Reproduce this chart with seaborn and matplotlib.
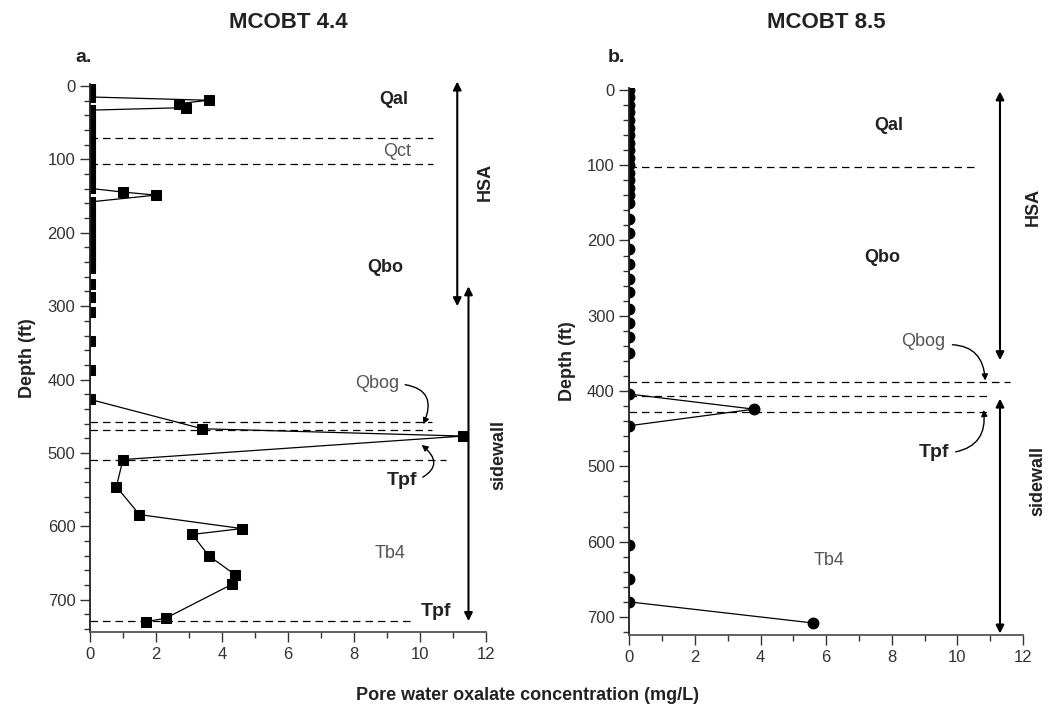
import numpy as np
import pandas as pd
import matplotlib
matplotlib.use("Agg")
import matplotlib.pyplot as plt
import seaborn as sns
from matplotlib.ticker import MultipleLocator

# ---------------- data ----------------
# Panel a (MCOBT 4.4): depth (ft) and pore water oxalate (mg/L)
depth_a = [0, 5, 10, 15, 19.5, 24, 29.5,
           33, 38, 43, 48, 53, 58, 63, 68, 73, 78, 83, 88, 93, 98, 103, 108, 113, 118, 123, 128, 133,
           139.5, 144.6, 148.7,
           158, 163, 168, 173, 178, 183, 188, 193, 198, 203, 208, 213, 218, 223, 228, 233, 238, 243, 248,
           270, 287, 308, 348, 387, 427,
           467, 477, 509, 546, 584, 603, 611, 640, 666, 679, 725, 730]
conc_a = [0, 0, 0, 0, 3.6, 2.7, 2.9,
          0, 0, 0, 0, 0, 0, 0, 0, 0, 0, 0, 0, 0, 0, 0, 0, 0, 0, 0, 0, 0,
          0, 1.0, 2.0,
          0, 0, 0, 0, 0, 0, 0, 0, 0, 0, 0, 0, 0, 0, 0, 0, 0, 0, 0,
          0, 0, 0, 0, 0, 0,
          3.4, 11.3, 1.0, 0.8, 1.5, 4.6, 3.1, 3.6, 4.4, 4.3, 2.3, 1.7]

# Panel b (MCOBT 8.5)
depth_b = [0, 10, 20, 30, 40, 50, 60, 70, 80, 90, 100, 110, 120, 130, 140,
           150, 171, 190, 211, 231, 251, 268, 291, 309, 328, 349,
           404, 424, 446, 604, 650, 680, 708]
conc_b = [0, 0, 0, 0, 0, 0, 0, 0, 0, 0, 0, 0, 0, 0, 0,
          0, 0, 0, 0, 0, 0, 0, 0, 0, 0, 0,
          0, 3.8, 0, 0, 0, 0, 5.6]

# formation boundaries (depth, dashed line extent in x)
bounds_a = [71, 106, 458, 469, 509, 729]
bound_ext_a = [10.4, 10.4, 10.35, 10.35, 10.8, 9.8]
bounds_b = [102, 388, 406, 428]
bound_ext_b = [10.5, 11.6, 11.0, 11.0]

titles = ["MCOBT 4.4", "MCOBT 8.5"]
panel_tags = ["a.", "b."]

# ---------------- style ----------------
sns.set_style("ticks")
plt.rcParams["font.family"] = ["Liberation Sans", "DejaVu Sans"]
DARK = "#222222"
GRAY = "#555555"
plt.rcParams["text.color"] = DARK
plt.rcParams["axes.labelcolor"] = DARK
plt.rcParams["xtick.color"] = "#333333"
plt.rcParams["ytick.color"] = "#333333"

fig = plt.figure(figsize=(10.56, 7.07), dpi=100)
ax_a = fig.add_axes([0.0852, 0.106, 0.375, 0.7745])
ax_b = fig.add_axes([0.596, 0.1018, 0.3727, 0.7737])

df_a = pd.DataFrame({"conc": conc_a, "depth": depth_a})
df_b = pd.DataFrame({"conc": conc_b, "depth": depth_b})

sns.lineplot(data=df_a, x="conc", y="depth", sort=False, estimator=None, ax=ax_a,
             color="black", linewidth=0.9, marker="s", markersize=7.2,
             markeredgecolor="black", markerfacecolor="black")
sns.lineplot(data=df_b, x="conc", y="depth", sort=False, estimator=None, ax=ax_b,
             color="black", linewidth=0.9, marker="o", markersize=7.8,
             markeredgecolor="black", markerfacecolor="black")

for ax, bnds, ext in [(ax_a, bounds_a, bound_ext_a), (ax_b, bounds_b, bound_ext_b)]:
    for d, e in zip(bnds, ext):
        ax.plot([0, e], [d, d], color="black", linewidth=0.9, linestyle=(0, (6, 4)))

ax_a.set_xlim(0, 12)
ax_a.set_ylim(744, -2)
ax_b.set_xlim(0, 12)
ax_b.set_ylim(724, -2.5)

for ax in (ax_a, ax_b):
    sns.despine(ax=ax)
    ax.spines["left"].set_color("#222222")
    ax.spines["bottom"].set_color("#555555")
    ax.spines["left"].set_linewidth(1.3)
    ax.spines["bottom"].set_linewidth(1.3)
    ax.xaxis.set_major_locator(MultipleLocator(2))
    ax.xaxis.set_minor_locator(MultipleLocator(1))
    ax.yaxis.set_major_locator(MultipleLocator(100))
    ax.yaxis.set_minor_locator(MultipleLocator(20))
    ax.tick_params(which="major", length=7, width=1, labelsize=12, direction="out")
    ax.tick_params(which="minor", length=4, width=1, direction="out")
    ax.set_xlabel("")
    ax.set_ylabel("Depth (ft)", fontsize=13, fontweight="bold", labelpad=8)

# ---------------- annotations ----------------
arrow_kw = dict(arrowstyle="<|-|>", color="black", lw=1.5, mutation_scale=12,
                shrinkA=0, shrinkB=0)
FS = 13

# panel a
ax_a.text(9.2, 18, "Qal", fontsize=FS, fontweight="bold", ha="center", va="center")
ax_a.text(9.3, 89, "Qct", fontsize=FS, color=GRAY, ha="center", va="center")
ax_a.text(8.94, 248, "Qbo", fontsize=FS, fontweight="bold", ha="center", va="center")
ax_a.text(9.1, 637, "Tb4", fontsize=FS, color=GRAY, ha="center", va="center")
ax_a.text(10.5, 716, "Tpf", fontsize=14, fontweight="bold", ha="center", va="center")
ax_a.annotate("", xy=(11.13, -6), xytext=(11.13, 300), arrowprops=arrow_kw, annotation_clip=False)
ax_a.annotate("", xy=(11.47, 273), xytext=(11.47, 729), arrowprops=arrow_kw, annotation_clip=False)
ax_a.text(11.97, 131, "HSA", rotation=90, fontsize=FS, fontweight="bold", ha="center", va="center", clip_on=False)
ax_a.text(12.4, 503, "sidewall", rotation=90, fontsize=FS, fontweight="bold", ha="center", va="center", clip_on=False)
ax_a.annotate("Qbog", xy=(10.1, 461), xytext=(8.7, 406), fontsize=FS, color=GRAY, ha="center", va="center",
              arrowprops=dict(arrowstyle="-|>", color="black", lw=1, mutation_scale=9,
                              connectionstyle="arc3,rad=-0.7", shrinkA=2, shrinkB=0,
                              relpos=(1.0, 0.5)))
ax_a.annotate("Tpf", xy=(10.05, 489), xytext=(9.45, 537), fontsize=14, fontweight="bold", ha="center", va="center",
              arrowprops=dict(arrowstyle="-|>", color="black", lw=1, mutation_scale=9,
                              connectionstyle="arc3,rad=0.8", shrinkA=2, shrinkB=0,
                              relpos=(1.0, 0.5)))

# panel b
ax_b.text(7.9, 47, "Qal", fontsize=FS, fontweight="bold", ha="center", va="center")
ax_b.text(7.7, 223, "Qbo", fontsize=FS, fontweight="bold", ha="center", va="center")
ax_b.text(6.1, 625, "Tb4", fontsize=FS, color=GRAY, ha="center", va="center")
ax_b.annotate("", xy=(11.3, 2), xytext=(11.3, 359), arrowprops=arrow_kw, annotation_clip=False)
ax_b.annotate("", xy=(11.3, 410), xytext=(11.3, 722), arrowprops=arrow_kw, annotation_clip=False)
ax_b.text(12.3, 155, "HSA", rotation=90, fontsize=FS, fontweight="bold", ha="center", va="center", clip_on=False)
ax_b.text(12.45, 520, "sidewall", rotation=90, fontsize=FS, fontweight="bold", ha="center", va="center", clip_on=False)
ax_b.annotate("Qbog", xy=(10.85, 386), xytext=(8.95, 334), fontsize=FS, color=GRAY, ha="center", va="center",
              arrowprops=dict(arrowstyle="-|>", color="black", lw=1, mutation_scale=9,
                              connectionstyle="arc3,rad=-0.5", shrinkA=3, shrinkB=0,
                              relpos=(1.0, 0.3)))
ax_b.annotate("Tpf", xy=(10.8, 425), xytext=(9.3, 482), fontsize=14, fontweight="bold", ha="center", va="center",
              arrowprops=dict(arrowstyle="-|>", color="black", lw=1, mutation_scale=9,
                              connectionstyle="arc3,rad=0.5", shrinkA=2, shrinkB=0,
                              relpos=(1.0, 0.5)))

# titles and tags
fig.text(288 / 1056, 1 - 22 / 707, titles[0], fontsize=16, fontweight="bold", ha="center", va="center")
fig.text(826 / 1056, 1 - 22 / 707, titles[1], fontsize=16, fontweight="bold", ha="center", va="center")
fig.text(75 / 1056, 1 - 58 / 707, panel_tags[0], fontsize=14, fontweight="bold", ha="left", va="center")
fig.text(608 / 1056, 1 - 58 / 707, panel_tags[1], fontsize=14, fontweight="bold", ha="left", va="center")
fig.text(0.5, 1 - 695 / 707, "Pore water oxalate concentration (mg/L)", fontsize=13,
         fontweight="bold", ha="center", va="center")

fig.savefig("out.png", dpi=100)
